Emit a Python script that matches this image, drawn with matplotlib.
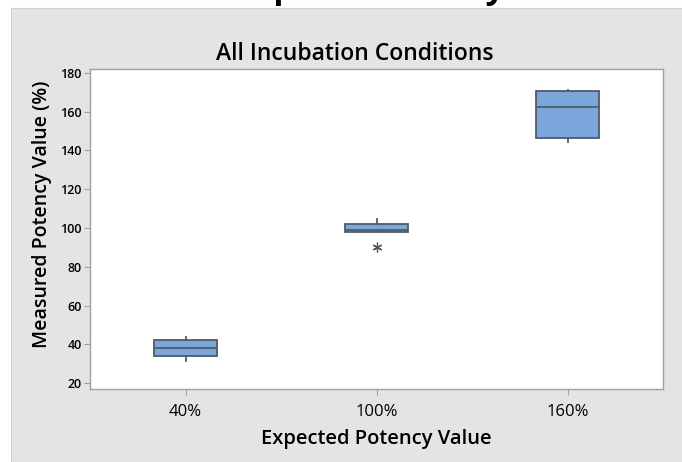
import numpy as np
import matplotlib.pyplot as plt
from matplotlib.patches import Rectangle

plt.rcParams['font.family'] = ['Open Sans', 'DejaVu Sans']

# summary statistics per expected potency level
levels = ['40%', '100%', '160%']
whislo = [31.4, 98.2, 144.6]
q1 = [34.0, 98.2, 146.5]
med = [38.1, 99.2, 162.5]
q3 = [42.3, 102.3, 170.5]
whishi = [43.8, 104.9, 171.4]
fliers = [[], [90.4], []]

box_fill = '#7BA6DB'
box_edge = '#4F5B66'
panel_bg = '#E4E4E4'

fig = plt.figure(figsize=(6.82, 4.62), dpi=100, facecolor='white')
fig.patches.append(Rectangle((11 / 682, 0), 1, 1 - 8 / 462, transform=fig.transFigure,
                             facecolor=panel_bg, edgecolor='#D0D0D0', lw=0.8, zorder=-10))
# page heading above the chart panel
fig.text(380 / 682, 1 + 2 / 462, 'Spike Recovery', ha='center', va='baseline',
         fontsize=24, fontweight='bold', color='black')

ax = fig.add_axes([90 / 682, 1 - 389 / 462, (663 - 90) / 682, (389 - 69) / 462])
ax.set_facecolor('white')

stats = []
for i in range(len(levels)):
    stats.append(dict(label=levels[i], whislo=whislo[i], q1=q1[i], med=med[i],
                      q3=q3[i], whishi=whishi[i], fliers=fliers[i]))

ax.bxp(stats, positions=[1, 2, 3], widths=0.33, patch_artist=True, showcaps=False,
       boxprops=dict(facecolor=box_fill, edgecolor=box_edge, lw=1.3),
       medianprops=dict(color=box_edge, lw=1.3),
       whiskerprops=dict(color=box_edge, lw=1.3),
       flierprops=dict(marker=(6, 2, 0), markersize=7, markeredgecolor='#505050',
                       markeredgewidth=0.9))

ax.set_xlim(0.5, 3.5)
ax.set_ylim(17, 182)
ax.set_yticks(np.arange(20, 181, 20))
ax.set_xticks([1, 2, 3])
ax.set_xticklabels(levels)

for sp in ax.spines.values():
    sp.set_color('#A0A0A0')
    sp.set_linewidth(1.0)
ax.tick_params(axis='y', length=4, width=0.8, color='#A0A0A0', labelsize=9, pad=2)
ax.tick_params(axis='x', length=4, width=0.8, color='#A0A0A0', labelsize=12, pad=7)
for lb in ax.get_yticklabels():
    lb.set_fontweight('semibold')

ax.set_xlabel('Expected Potency Value', fontsize=14.5, fontweight='semibold', labelpad=6)
ax.set_ylabel('Measured Potency Value (%)', fontsize=14, fontweight='semibold')
ax.yaxis.set_label_coords(-0.066, 0.545)
fig.text(355 / 682, 1 - 54 / 462, 'All Incubation Conditions', ha='center', va='center',
         fontsize=16.5, fontweight='semibold')

fig.savefig('out.png', dpi=100, facecolor=fig.get_facecolor())
